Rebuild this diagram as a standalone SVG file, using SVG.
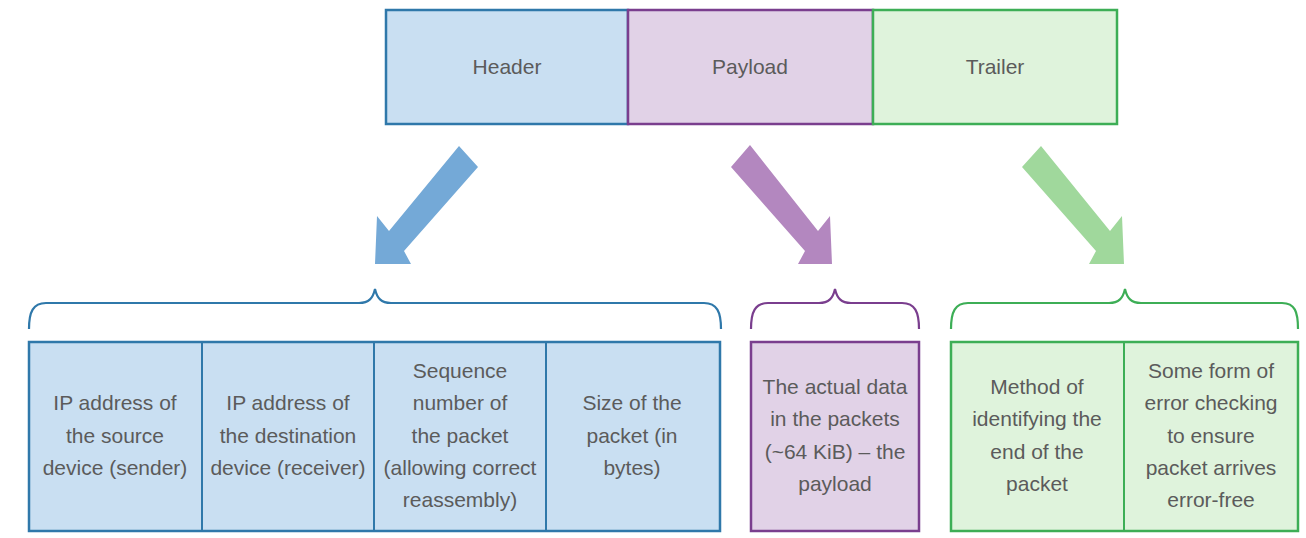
<svg xmlns="http://www.w3.org/2000/svg" width="1306" height="538" viewBox="0 0 1306 538">
<style>
text{font-family:"Liberation Sans Narrow","Liberation Sans",Arial,sans-serif;font-size:21px;fill:#5b5b5b;text-anchor:middle}
.bl{fill:#c9dff2;stroke:#2f78aa;stroke-width:2.5}
.pu{fill:#e1d2e7;stroke:#7a3e8e;stroke-width:2.5}
.gr{fill:#dff3dc;stroke:#3dae56;stroke-width:2.5}
.br{fill:none;stroke-width:2.2}
</style>
<rect width="1306" height="538" fill="#fff"/>
<g id="packet">
<g id="header"><rect class="bl" x="386" y="10" width="242" height="114"/><text x="507" y="74">Header</text></g>
<g id="payload"><rect class="pu" x="628" y="10" width="245" height="114"/><text x="750" y="74">Payload</text></g>
<g id="trailer"><rect class="gr" x="873" y="10" width="244" height="114"/><text x="995" y="74">Trailer</text></g>
</g>
<g id="connectors">
<polygon fill="#74a9d7" points="459,146 478,167 404,251 411,264 375,264 377,216 389,231"/>
<polygon fill="#b387bf" points="750,145 731,167 805,251 798,264 832,264 830,216 818,231"/>
<polygon fill="#a0d89c" points="1041,146 1022,167 1096,251 1089,264 1124,264 1122,216 1110,231"/>
<path class="br" stroke="#2f78aa" d="M29,329 C29,312 33,303 46,303 L359,303 C369,303 373,298 375,289 C377,298 381,303 391,303 L704,303 C717,303 721,312 721,329"/>
<path class="br" stroke="#7a3e8e" d="M751,329 C751,312 755,303 768,303 L819,303 C829,303 833,298 835,289 C837,298 841,303 851,303 L902,303 C915,303 919,312 919,329"/>
<path class="br" stroke="#3dae56" d="M951,329 C951,312 955,303 968,303 L1109,303 C1119,303 1123,298 1125,289 C1127,298 1131,303 1141,303 L1282,303 C1295,303 1298,312 1298,329"/>
</g>
<g id="header-fields">
<rect class="bl" x="29" y="342" width="691" height="189"/>
<line x1="202" y1="342" x2="202" y2="531" stroke="#2f78aa" stroke-width="2"/>
<line x1="374" y1="342" x2="374" y2="531" stroke="#2f78aa" stroke-width="2"/>
<line x1="546" y1="342" x2="546" y2="531" stroke="#2f78aa" stroke-width="2"/>
<g id="f-src"><text x="115" y="410">IP address of</text><text x="115" y="443">the source</text><text x="115" y="475">device (sender)</text></g>
<g id="f-dst"><text x="288" y="410">IP address of</text><text x="288" y="443">the destination</text><text x="288" y="475">device (receiver)</text></g>
<g id="f-seq"><text x="460" y="378">Sequence</text><text x="460" y="410">number of</text><text x="460" y="443">the packet</text><text x="460" y="475">(allowing correct</text><text x="460" y="507">reassembly)</text></g>
<g id="f-size"><text x="632" y="410">Size of the</text><text x="632" y="443">packet (in</text><text x="632" y="475">bytes)</text></g>
</g>
<g id="payload-field">
<rect class="pu" x="751" y="342" width="168" height="189"/>
<text x="835" y="394">The actual data</text><text x="835" y="426">in the packets</text><text x="835" y="459">(~64 KiB) – the</text><text x="835" y="491">payload</text>
</g>
<g id="trailer-fields">
<rect class="gr" x="951" y="342" width="347" height="189"/>
<line x1="1124" y1="342" x2="1124" y2="531" stroke="#3dae56" stroke-width="2"/>
<g id="t-end"><text x="1037" y="394">Method of</text><text x="1037" y="426">identifying the</text><text x="1037" y="459">end of the</text><text x="1037" y="491">packet</text></g>
<g id="t-err"><text x="1211" y="378">Some form of</text><text x="1211" y="410">error checking</text><text x="1211" y="443">to ensure</text><text x="1211" y="475">packet arrives</text><text x="1211" y="507">error-free</text></g>
</g>
</svg>
